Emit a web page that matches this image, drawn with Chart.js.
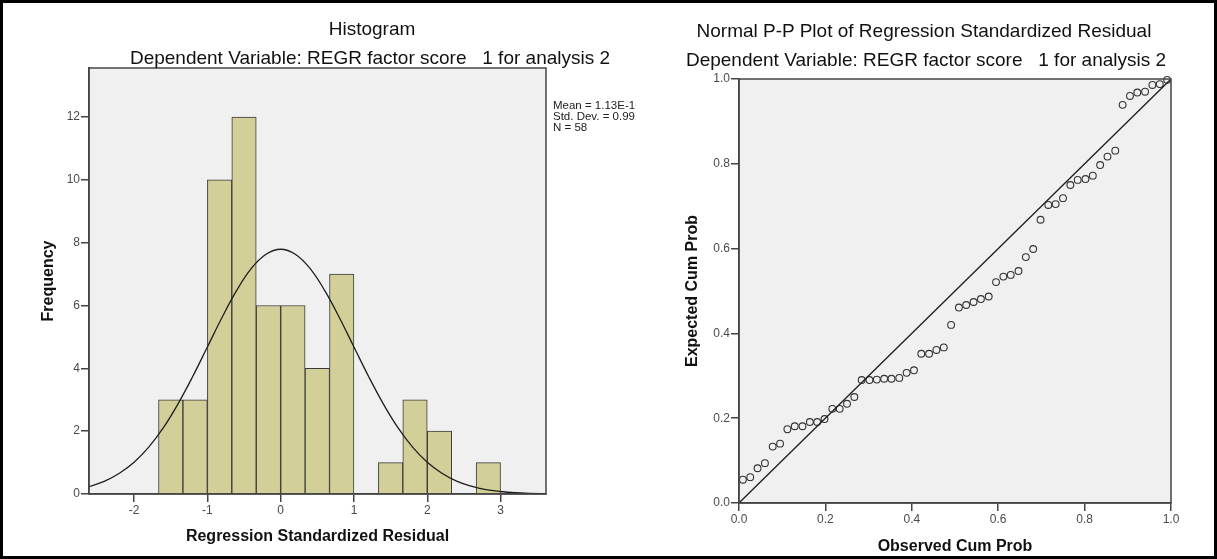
<!DOCTYPE html>
<html>
<head>
<title>Regression Residuals</title>
<script src="https://cdn.jsdelivr.net/npm/chart.js@4.4.0/dist/chart.umd.min.js"></script>
<style>
    body { margin: 0; background: #fff; font-family: "Liberation Sans", Arial, sans-serif; }
    #page { position: relative; width: 1217px; height: 559px; overflow: hidden; background: #fff; }
    #page canvas { position: absolute; top: 0; }
    .title { position: absolute; width: 600px; font-size: 19px; line-height: 19px; text-align: center; color: #111; white-space: nowrap; }
    #stats { position: absolute; left: 553px; top: 100px; width: 83px; overflow: hidden; font-size: 11.5px; line-height: 11px; color: #222; white-space: nowrap; }
    #frame { position: absolute; left: 0; top: 0; width: 1217px; height: 559px; box-sizing: border-box; border: 3px solid #000; pointer-events: none; }
</style>
</head>
<body>
<div id="page">
    <canvas id="histChart" width="637" height="559" style="left:0"></canvas>
    <canvas id="ppChart" width="580" height="559" style="left:637px"></canvas>

    <div class="title" style="left:72px; top:19px">Histogram</div>
    <div class="title" style="left:70px; top:48px">Dependent Variable: REGR factor score &nbsp; 1 for analysis 2</div>
    <div class="title" style="left:624px; top:21px">Normal P-P Plot of Regression Standardized Residual</div>
    <div class="title" style="left:626px; top:50px">Dependent Variable: REGR factor score &nbsp; 1 for analysis 2</div>

    <div id="stats"></div>
    <div id="frame"></div>
</div>

<script>
    // histogram of standardized residuals (bin width 1/3)
    var binCenters = [-1.5, -1.167, -0.833, -0.5, -0.167, 0.167, 0.5, 0.833, 1.167, 1.5, 1.833, 2.167, 2.5, 2.833];
    var binCounts  = [3, 3, 10, 12, 6, 6, 4, 7, 0, 1, 3, 2, 0, 1];

    // normal curve drawn over the histogram
    var curveX = [-2.62, -2.4, -2.2, -2.0, -1.8, -1.6, -1.4, -1.2, -1.0, -0.8, -0.6, -0.4, -0.2, 0, 0.2, 0.4, 0.6, 0.8,
                  1.0, 1.2, 1.4, 1.6, 1.8, 2.0, 2.2, 2.4, 2.6, 2.8, 3.0, 3.2, 3.4, 3.62];
    var curveY = [0.23, 0.41, 0.66, 1.01, 1.49, 2.11, 2.87, 3.74, 4.68, 5.62, 6.48, 7.18, 7.63, 7.79, 7.63, 7.18, 6.48, 5.62,
                  4.68, 3.74, 2.87, 2.11, 1.49, 1.01, 0.66, 0.41, 0.25, 0.14, 0.08, 0.04, 0.02, 0.01];

    var statLines = ['Mean = 1.13E-16', 'Std. Dev. = 0.991', 'N = 58'];

    // P-P plot: observed vs expected cumulative probability
    var observedCum = [0.009, 0.026, 0.043, 0.060, 0.078, 0.095, 0.112, 0.129, 0.147, 0.164, 0.181, 0.198, 0.216, 0.233, 0.250,
                       0.267, 0.284, 0.302, 0.319, 0.336, 0.353, 0.371, 0.388, 0.405, 0.422, 0.440, 0.457, 0.474, 0.491, 0.509,
                       0.526, 0.543, 0.560, 0.578, 0.595, 0.612, 0.629, 0.647, 0.664, 0.681, 0.698, 0.716, 0.733, 0.750, 0.767,
                       0.784, 0.802, 0.819, 0.836, 0.853, 0.871, 0.888, 0.905, 0.922, 0.940, 0.957, 0.974, 0.991];
    var expectedCum = [0.055, 0.061, 0.082, 0.094, 0.133, 0.140, 0.174, 0.181, 0.181, 0.191, 0.191, 0.198, 0.222, 0.222, 0.234,
                       0.250, 0.290, 0.290, 0.291, 0.293, 0.293, 0.295, 0.307, 0.313, 0.352, 0.352, 0.361, 0.367, 0.420, 0.461,
                       0.467, 0.474, 0.481, 0.487, 0.521, 0.534, 0.538, 0.547, 0.580, 0.599, 0.668, 0.703, 0.705, 0.719, 0.750,
                       0.762, 0.764, 0.772, 0.797, 0.817, 0.831, 0.939, 0.960, 0.968, 0.970, 0.986, 0.988, 0.998];
    var refLine = [0, 1];

    document.getElementById('stats').innerHTML = statLines.join('<br>');

    var axisColor = '#444';
    var tickFont = { family: 'Liberation Sans', size: 12 };
    var titleFont = { family: 'Liberation Sans', size: 16, weight: 'bold' };

    // grey plot background + closed box around the plot area
    var plotBox = {
        id: 'plotBox',
        beforeDraw: function (chart) {
            var a = chart.chartArea, ctx = chart.ctx;
            ctx.save();
            ctx.fillStyle = '#f0f0f0';
            ctx.fillRect(a.left, a.top, a.right - a.left, a.bottom - a.top);
            ctx.restore();
        },
        afterDraw: function (chart) {
            var a = chart.chartArea, ctx = chart.ctx;
            ctx.save();
            ctx.strokeStyle = axisColor;
            ctx.lineWidth = 1.5;
            ctx.strokeRect(a.left, a.top, a.right - a.left, a.bottom - a.top);
            ctx.restore();
        }
    };

    function makeAxis(title, titlePad, min, max, step, size, isX, fmt) {
        return {
            type: 'linear',
            min: min, max: max,
            offset: false,
            ticks: { stepSize: step, includeBounds: false, color: '#4a4a4a', font: tickFont, padding: 1, callback: fmt },
            grid: { drawOnChartArea: false, drawTicks: true, tickLength: 8, color: axisColor, lineWidth: 1.5, offset: false },
            border: { display: true, color: axisColor, width: 1.5 },
            title: { display: true, text: title, color: '#111', font: titleFont, padding: titlePad },
            afterFit: function (s) { if (isX) { s.height = size; } else { s.width = size; } }
        };
    }

    var histBars = binCenters.map(function (c, i) { return { x: c, y: binCounts[i] }; });
    var histCurve = curveX.map(function (x, i) { return { x: x, y: curveY[i] }; });

    var ctx1 = document.getElementById('histChart').getContext('2d');
    var histChart = new Chart(ctx1, {
        type: 'bar',
        data: {
            datasets: [
                { type: 'line', data: histCurve, borderColor: '#1e1e1e', borderWidth: 1.3, pointRadius: 0, tension: 0.4, fill: false },
                { type: 'bar', data: histBars, backgroundColor: '#d3cf98', borderColor: '#3a3a3a', borderWidth: 1,
                  barPercentage: 1, categoryPercentage: 1 }
            ]
        },
        options: {
            responsive: false, animation: false, devicePixelRatio: 1,
            layout: { padding: { top: 68, right: 91, left: 0, bottom: 0 } },
            plugins: { legend: { display: false }, tooltip: { enabled: false } },
            scales: {
                x: makeAxis('Regression Standardized Residual', { bottom: 13 }, -2.615, 3.62, 1, 65, true),
                y: makeAxis('Frequency', { top: 39 }, 0, 13.56, 2, 89, false)
            }
        },
        plugins: [plotBox]
    });

    var ppPoints = observedCum.map(function (x, i) { return { x: x, y: expectedCum[i] }; });
    var diagonal = refLine.map(function (v) { return { x: v, y: v }; });
    var oneDecimal = function (v) { return v.toFixed(1); };

    var ctx2 = document.getElementById('ppChart').getContext('2d');
    var ppChart = new Chart(ctx2, {
        type: 'scatter',
        data: {
            datasets: [
                { data: diagonal, showLine: true, borderColor: '#1e1e1e', borderWidth: 1.3, pointRadius: 0 },
                { data: ppPoints, pointRadius: 3.4, borderWidth: 1.1, borderColor: '#333', backgroundColor: 'rgba(0,0,0,0)', clip: false }
            ]
        },
        options: {
            responsive: false, animation: false, devicePixelRatio: 1,
            layout: { padding: { top: 79, right: 46, left: 0, bottom: 0 } },
            plugins: { legend: { display: false }, tooltip: { enabled: false } },
            scales: {
                x: makeAxis('Observed Cum Prob', { bottom: 3 }, 0, 1, 0.2, 56, true, oneDecimal),
                y: makeAxis('Expected Cum Prob', { top: 46 }, 0, 1, 0.2, 102, false, oneDecimal)
            }
        },
        plugins: [plotBox]
    });
</script>
</body>
</html>
